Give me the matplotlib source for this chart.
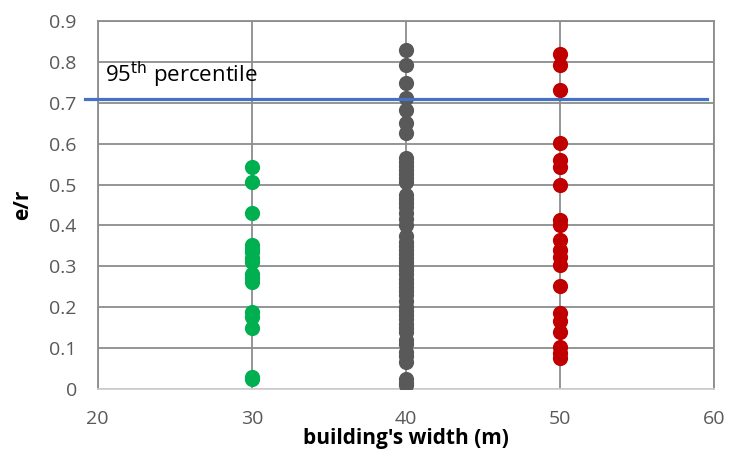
import matplotlib
matplotlib.use("Agg")
import matplotlib.pyplot as plt

plt.rcParams['font.family'] = ['Open Sans', 'DejaVu Sans']

# e/r values, grouped by building width
x_groups = [30, 40, 50]
e_r_30 = [0.543, 0.506, 0.43, 0.352, 0.342, 0.335, 0.32, 0.31, 0.281, 0.272, 0.262,
          0.188, 0.175, 0.149, 0.03, 0.025]
e_r_40 = [0.829, 0.792, 0.748, 0.711, 0.682, 0.65, 0.626, 0.565, 0.555, 0.545, 0.535,
          0.525, 0.515, 0.505, 0.475, 0.465, 0.455, 0.445, 0.43, 0.415, 0.40,
          0.375, 0.36, 0.35, 0.34, 0.33, 0.32, 0.31, 0.30, 0.29, 0.28, 0.27, 0.26,
          0.25, 0.24, 0.23, 0.215, 0.20, 0.19, 0.18, 0.17, 0.16, 0.15, 0.14, 0.12,
          0.11, 0.09, 0.08, 0.065, 0.025, 0.015, 0.01]
e_r_50 = [0.819, 0.792, 0.731, 0.601, 0.56, 0.543, 0.499, 0.413, 0.40, 0.364, 0.34,
          0.323, 0.303, 0.252, 0.186, 0.165, 0.14, 0.103, 0.088, 0.076]
colors = ['#00B050', '#595959', '#C00000']
p95 = 0.709
p95_label = '95$^{\\mathrm{th}}$ percentile'

fig = plt.figure(figsize=(7.29, 4.57), dpi=100)
ax = fig.add_axes([0.134, 0.149, 0.846, 0.805])

for xv, vals, c in zip(x_groups, [e_r_30, e_r_40, e_r_50], colors):
    ax.scatter([xv] * len(vals), vals, s=120, color=c, zorder=3, linewidths=0)

ax.plot([19.2, 59.5], [p95, p95], color='#4472C4', lw=2.3, zorder=4, clip_on=False)
ax.text(20.45, 0.768, p95_label, fontsize=16, color='black', va='center', ha='left')

ax.set_xlim(20, 60)
ax.set_ylim(0, 0.9)
ax.set_xticks([20, 30, 40, 50, 60])
ax.set_yticks([i / 10 for i in range(10)])
ax.set_yticklabels(['0'] + ['%.1f' % (i / 10) for i in range(1, 10)])
ax.grid(True, color='#8C8C8C', lw=1.3, zorder=0)
ax.set_axisbelow(True)
for side in ['left', 'right', 'top']:
    ax.spines[side].set_color('#8C8C8C')
    ax.spines[side].set_linewidth(1.3)
ax.spines['bottom'].set_color('#D0D0D0')
ax.spines['bottom'].set_linewidth(1.3)
ax.tick_params(length=0, labelsize=14, labelcolor='#595959')
ax.tick_params(axis='y', pad=15)
ax.tick_params(axis='x', pad=15)
ax.set_xlabel("building's width (m)", fontsize=15, fontweight='bold', labelpad=0)
ax.set_ylabel('e/r', fontsize=15, fontweight='bold', labelpad=12)

fig.savefig('out.png', dpi=100)
